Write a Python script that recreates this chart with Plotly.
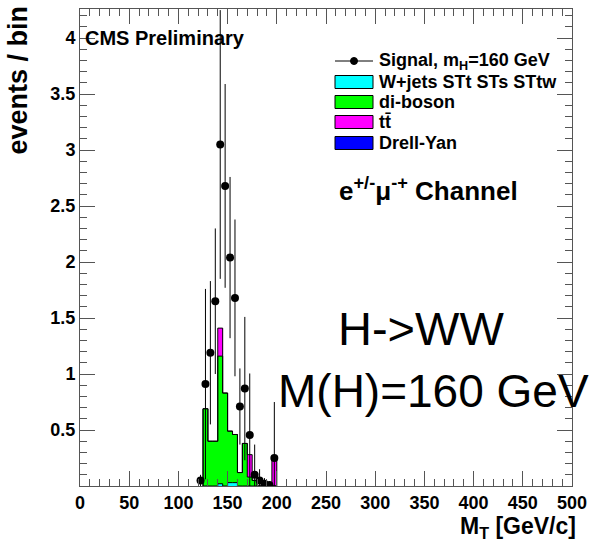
import plotly.graph_objects as go

# ---------------- data ----------------
sig_x = [122.5, 127.5, 132.5, 137.5, 142.5, 147.5, 152.5, 157.5, 162.5, 167.5,
         172.5, 177.5, 182.5, 187.5, 192.5, 197.5]
sig_y = [0.05, 0.91, 1.19, 1.65, 3.05, 2.68, 2.04, 1.68, 0.71, 0.87,
         0.455, 0.10, 0.05, 0.02, 0.01, 0.25]
sig_err = [0.05, 0.85, 0.64, 0.65, 1.2, 0.91, 0.72, 0.70, 0.34, 0.64,
           0.55, 0.27, 0.10, 0.05, 0.03, 0.50]

mc_x = [127.5, 132.5, 137.5, 142.5, 147.5, 152.5, 157.5, 162.5, 167.5,
        172.5, 177.5, 182.5, 187.5, 192.5, 197.5]
wjets = [0, 0, 0, 0.02, 0, 0.03, 0.03, 0, 0, 0, 0, 0, 0, 0, 0]
diboson = [0.69, 0.40, 0.40, 1.14, 0.83, 0.46, 0.43, 0.12, 0.38, 0.08, 0.05, 0, 0, 0, 0]
ttbar = [0, 0, 0, 0.25, 0, 0, 0, 0, 0, 0.20, 0, 0, 0, 0, 0.25]
dyan = [0] * 15
bin_w = 5.0

x_ticks = list(range(0, 501, 50))
y_ticks = [0.5, 1, 1.5, 2, 2.5, 3, 3.5, 4]
y_ticktext = ["0.5", "1", "1.5", "2", "2.5", "3", "3.5", "4"]

sig_name = "Signal, m<sub>H</sub>=160 GeV"
names = ["W+jets STt STs STtw", "di-boson", "t\u0074\u0304", "Drell-Yan"]
colors = ["#00FFFF", "#00FF00", "#FF00FF", "#0000FF"]
layers = [wjets, diboson, ttbar, dyan]

FONT = "Liberation Sans, Arial, sans-serif"
FRAME = "#555555"

W, H = 592, 547
# plot frame in pixels
FL, FR, FT, FB = 80, 572, 9, 486
PW, PH = FR - FL, FB - FT


def px(xw):
    return (xw - FL) / PW


def py(yw):
    return (FB - yw) / PH


fig = go.Figure()

# stacked MC histograms
for nm, col, vals in zip(names, colors, layers):
    fig.add_trace(go.Bar(x=mc_x, y=vals, width=bin_w, name=nm, showlegend=False,
                         marker=dict(color=col, line=dict(width=0))))

# black outlines of each cumulative stack layer
edges = [c - bin_w / 2 for c in mc_x] + [mc_x[-1] + bin_w / 2]
cum = [0.0] * len(mc_x)
for vals in layers[:3]:
    cum = [a + b for a, b in zip(cum, vals)]
    ox = [edges[0]] + edges
    oy = [0.0] + cum + [0.0]
    fig.add_trace(go.Scatter(x=ox, y=oy, mode="lines", line_shape="hv",
                             line=dict(color="black", width=1),
                             showlegend=False, hoverinfo="skip"))

# signal points with error bars
err_minus = [min(e, v) for e, v in zip(sig_err, sig_y)]
fig.add_trace(go.Scatter(x=sig_x, y=sig_y, mode="markers", name=sig_name,
                         showlegend=False,
                         marker=dict(color="black", size=8),
                         error_y=dict(type="data", array=sig_err,
                                      arrayminus=err_minus, color="black",
                                      thickness=1, width=0)))

axis_common = dict(ticks="inside", ticklen=15, tickcolor=FRAME, tickwidth=1,
                   showline=True, linecolor=FRAME, linewidth=1, mirror="allticks",
                   showgrid=False, zeroline=False, automargin=False,
                   tickfont=dict(family=FONT, size=18, color="black", weight="bold"))

fig.update_layout(
    template="none",
    width=W, height=H, autosize=False,
    margin=dict(l=FL, r=W - FR, t=FT, b=H - FB, pad=0),
    paper_bgcolor="white", plot_bgcolor="white",
    barmode="stack", bargap=0, showlegend=False,
    xaxis=dict(range=[0, 500], tickmode="array", tickvals=x_ticks,
               minor=dict(ticks="inside", ticklen=7, tickcolor=FRAME,
                          tickmode="linear", tick0=0, dtick=10),
               **axis_common),
    yaxis=dict(range=[0, 4.26], tickmode="array", tickvals=y_ticks,
               ticktext=y_ticktext,
               minor=dict(ticks="inside", ticklen=7, tickcolor=FRAME,
                          tickmode="linear", tick0=0, dtick=0.1),
               **axis_common),
)

# ---------------- ROOT-style legend (boxes + texts) ----------------
leg_rows = [61, 82, 102, 122, 143]
box_x0, box_x1, box_h = 335, 373, 13
text_x = 377
shapes = []
annotations = []
# signal entry: horizontal line with a dot
shapes.append(dict(type="line", xref="paper", yref="paper",
                   x0=px(box_x0), x1=px(box_x1), y0=py(leg_rows[0]), y1=py(leg_rows[0]),
                   line=dict(color="black", width=1)))
cx = (box_x0 + box_x1) / 2
shapes.append(dict(type="circle", xref="paper", yref="paper",
                   x0=px(cx - 3.5), x1=px(cx + 3.5),
                   y0=py(leg_rows[0] + 3.5), y1=py(leg_rows[0] - 3.5),
                   fillcolor="black", line=dict(color="black", width=1)))
for row, col in zip(leg_rows[1:], colors):
    shapes.append(dict(type="rect", xref="paper", yref="paper",
                       x0=px(box_x0), x1=px(box_x1),
                       y0=py(row + box_h / 2), y1=py(row - box_h / 2),
                       fillcolor=col, line=dict(color="black", width=1)))
for row, txt in zip(leg_rows, [sig_name] + names):
    annotations.append(dict(text=txt, x=px(text_x), y=py(row), xanchor="left",
                            yanchor="middle",
                            font=dict(family=FONT, size=18, color="black",
                                      weight="bold")))

annotations += [
    dict(text="CMS Preliminary", x=px(83), y=py(38), xanchor="left", yanchor="middle",
         font=dict(family=FONT, size=20, color="black", weight="bold")),
    dict(text="e<sup>+/-</sup>\u03bc<sup>-+</sup> Channel", x=px(337), y=py(190),
         xanchor="left", yanchor="middle",
         font=dict(family=FONT, size=26, color="black", weight="bold")),
    dict(text="H->WW", x=px(336), y=py(328), xanchor="left", yanchor="middle",
         font=dict(family=FONT, size=47, color="black")),
    dict(text="M(H)=160 GeV", x=px(276), y=py(391), xanchor="left", yanchor="middle",
         font=dict(family=FONT, size=46, color="black")),
    dict(text="events / bin", x=px(18), y=py(4), xanchor="center", yanchor="top",
         textangle=-90,
         font=dict(family=FONT, size=27, color="black", weight="bold")),
    dict(text="M<sub>T</sub> [GeV/c]", x=px(578), y=py(527), xanchor="right",
         yanchor="middle",
         font=dict(family=FONT, size=23, color="black", weight="bold")),
]
for a in annotations:
    a.update(xref="paper", yref="paper", showarrow=False)
fig.update_layout(annotations=annotations, shapes=shapes)

# drop the browser's default 8px page margin so the figure fills the window
fig.write_html("out.html",
               config={"displayModeBar": False},
               post_script="document.body.style.margin='0px';"
                           "document.body.style.overflow='hidden';")
